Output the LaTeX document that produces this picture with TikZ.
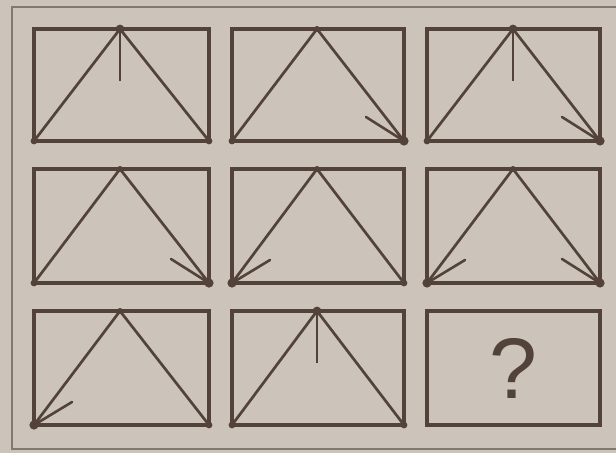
\documentclass[tikz,border=0pt]{standalone}
\usepackage{fontspec}
\setmainfont{Liberation Sans}
\usetikzlibrary{calc}
\definecolor{bgc}{RGB}{204,196,186}
\definecolor{ink}{RGB}{82,66,58}
\definecolor{frame}{RGB}{130,120,112}
\newcommand{\mkcell}[6]{%
  \coordinate (#1-tl) at (#2,#4);
  \coordinate (#1-br) at (#3,#5);
  \coordinate (#1-bl) at (#2,#5);
  \coordinate (#1-a) at (#6,#4);
  \draw[cellbox] (#1-tl) rectangle (#1-br);
}
\begin{document}
\begin{tikzpicture}[x=1pt,y=-1pt,
  cellbox/.style={draw=ink,line width=3.6pt},
  diag/.style={draw=ink,line width=2.7pt,line cap=round},
  tick/.style={draw=ink,line width=2.7pt},
  barb/.style={draw=ink,line width=2.6pt,line cap=round},
  vdot/.style={fill=ink},
  outer/.style={draw=frame,line width=2.4pt}]
\fill[bgc] (0,0) rectangle (616,453);
\useasboundingbox (0,0) rectangle (616,453);
\draw[outer] (640,7) -- (12,7) -- (12,449) -- (640,449);
% cells
\mkcell{a}{34}{209}{29}{141}{120}
\mkcell{b}{232}{404}{29}{141}{317}
\mkcell{c}{427}{600}{29}{141}{513}
\mkcell{d}{34}{209}{169}{283}{120}
\mkcell{e}{232}{404}{169}{283}{317}
\mkcell{f}{427}{600}{169}{283}{513}
\mkcell{g}{34}{209}{311}{425}{120}
\mkcell{h}{232}{404}{311}{425}{317}
\mkcell{i}{427}{600}{311}{425}{513}
% triangles
\foreach \c in {a,b,c,d,e,f,g,h}{
  \draw[diag] (\c-bl) -- (\c-a) -- (\c-br);
  \fill[vdot] (\c-bl) circle (3.4);
  \fill[vdot] (\c-br) circle (3.4);
  \fill[vdot] (\c-a) circle (3);
}
% vertical ticks
\foreach \c in {a,c,h}{
  \draw[tick] (\c-a) -- ($(\c-a)+(0,52)$);
  \fill[vdot] (\c-a) circle (4.4);
}
% right-pointing half arrows
\foreach \c in {b,c,d,f}{
  \draw[barb] (\c-br) -- ($(\c-br)+(-38,-24)$);
  \fill[vdot] (\c-br) circle (4.6);
}
% left-pointing half arrows
\foreach \c in {e,f,g}{
  \draw[barb] (\c-bl) -- ($(\c-bl)+(38,-23)$);
  \fill[vdot] (\c-bl) circle (4.6);
}
\node[text=ink,font=\fontsize{86}{86}\selectfont] (q) at (513,368) {?};
\end{tikzpicture}
\end{document}
